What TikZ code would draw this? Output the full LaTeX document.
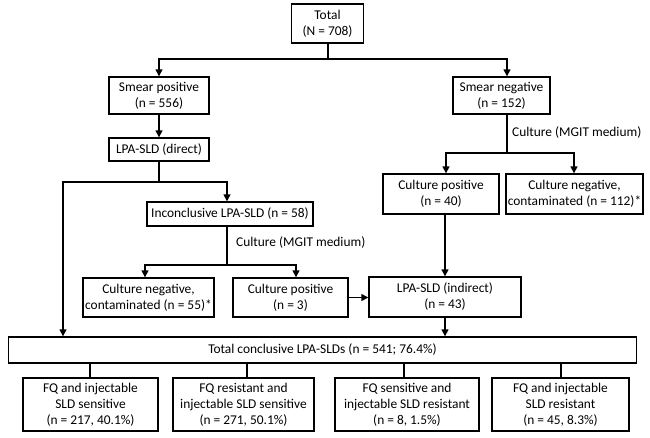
\documentclass[tikz,border=0pt]{standalone}
\usepackage{fontspec}
\setmainfont{Carlito}
\usetikzlibrary{arrows.meta}
\begin{document}
\begin{tikzpicture}[x=1pt,y=-1pt,
  box/.style={draw,line width=1.4pt,inner sep=0pt,align=center,font=\fontsize{13.4}{16}\selectfont},
  arr/.style={line width=1.4pt,-{Triangle[length=7pt,width=7pt]}},
  ln/.style={line width=1.4pt},
  lbl/.style={anchor=west,inner sep=0pt,font=\fontsize{13.4}{16}\selectfont}]
\useasboundingbox (0,0) rectangle (650,437);
\node[box,minimum width=72pt,minimum height=39pt] (total) at (327.5,23.5) {Total\\(N = 708)};
\node[box,minimum width=100pt,minimum height=37pt] (smpos) at (159,95.5) {Smear positive\\(n = 556)};
\node[box,minimum width=100pt,minimum height=23pt] (lpad) at (159,149.5) {LPA-SLD (direct)};
\node[box,minimum width=166pt,minimum height=24pt] (incon) at (230,214) {Inconclusive LPA-SLD (n = 58)};
\node[box,minimum width=97pt,minimum height=37pt] (smneg) at (501.5,95.5) {Smear negative\\(n = 152)};
\node[box,minimum width=116pt,minimum height=40pt] (culpos) at (441,194) {Culture positive\\(n = 40)};
\node[box,minimum width=137pt,minimum height=40pt] (culneg) at (574.5,194) {Culture negative,\\contaminated (n = 112)*};
\node[box,minimum width=152pt,minimum height=40pt] (lpai) at (445,297) {LPA-SLD (indirect)\\(n = 43)};
\node[box,minimum width=131pt,minimum height=39pt] (cneg) at (148.5,297.5) {Culture negative,\\contaminated (n = 55)*};
\node[box,minimum width=115pt,minimum height=39pt] (cpos) at (290.5,297.5) {Culture positive\\(n = 3)};
\node[box,minimum width=628pt,minimum height=26pt] (tot) at (322.5,350) {Total conclusive LPA-SLDs (n = 541; 76.4\%)};
\node[box,minimum width=135pt,minimum height=53pt] (b1) at (90.5,404.5) {FQ and injectable\\SLD sensitive\\(n = 217, 40.1\%)};
\node[box,minimum width=141pt,minimum height=53pt] (b2) at (243.5,404.5) {FQ resistant and\\injectable SLD sensitive\\(n = 271, 50.1\%)};
\node[box,minimum width=144pt,minimum height=53pt] (b3) at (407,404.5) {FQ sensitive and\\injectable SLD resistant\\(n = 8, 1.5\%)};
\node[box,minimum width=137pt,minimum height=53pt] (b4) at (560.5,404.5) {FQ and injectable\\SLD resistant\\(n = 45, 8.3\%)};
% top split
\coordinate (j1) at (328,59);
\draw[ln] (total.south -| j1) -- (j1);
\draw[arr] (j1) -| (smpos.north);
\draw[arr] (j1) -| (smneg.north -| 507,0);
\draw[arr] (smpos) -- (lpad);
% direct split
\coordinate (j2) at (159,182);
\draw[ln] (lpad.south) -- (j2);
\draw[arr] (j2) -| (tot.north -| 63,0);
\draw[arr] (j2) -| (incon.north -| 227,0);
% inconclusive split
\coordinate (j3) at (227,265);
\draw[ln] (incon.south -| j3) -- (j3);
\node[lbl] (lbl1) at (236,243) {Culture (MGIT medium)};
\draw[arr] (j3) -| (cneg.north -| 145,0);
\draw[arr] (j3) -| (cpos.north -| 296,0);
% smear negative split
\coordinate (j4) at (507,153);
\draw[ln] (smneg.south -| j4) -- (j4);
\node[lbl] (lbl2) at (512,133) {Culture (MGIT medium)};
\draw[arr] (j4) -| (culpos.north -| 446,0);
\draw[arr] (j4) -| (culneg.north -| 574,0);
% to indirect
\draw[arr] (culpos.south -| 445,0) -- (lpai.north -| 445,0);
\draw[arr] (cpos.east) -- (lpai.west |- cpos.east);
\draw[arr] (lpai.south -| 445,0) -- (tot.north -| 445,0);
% bottom
\draw[ln] (tot.south -| 90,0) -- (b1.north -| 90,0);
\draw[ln] (tot.south -| 247,0) -- (b2.north -| 247,0);
\draw[ln] (tot.south -| 404,0) -- (b3.north -| 404,0);
\draw[ln] (tot.south -| 561,0) -- (b4.north -| 561,0);
\end{tikzpicture}
\end{document}
